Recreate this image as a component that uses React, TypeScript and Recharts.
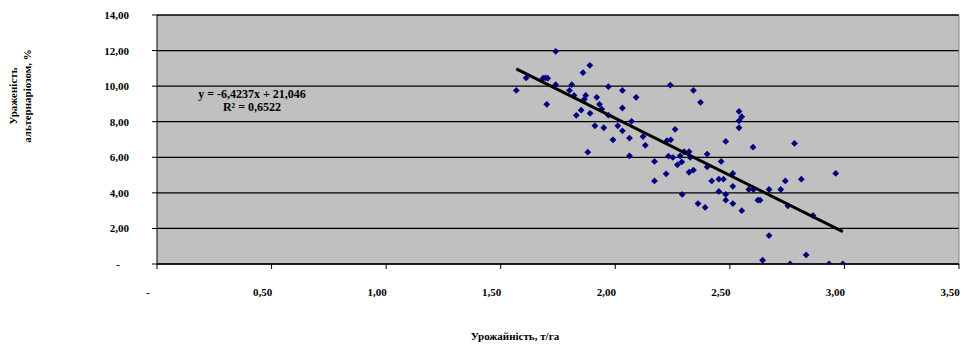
import { CartesianGrid, ReferenceLine, Scatter, ScatterChart, XAxis, YAxis } from "recharts";

// Урожайність (т/га) vs ураженість альтернаріозом (%), точки + лінійний тренд

const yieldT = [
  1.568, 1.611, 1.685, 1.695, 1.705, 1.701, 1.74, 1.74, 1.8, 1.81, 1.82, 1.83, 1.851, 1.859, 1.865,
  1.871, 1.88, 1.889, 1.89, 1.911, 1.919, 1.931, 1.941, 1.95, 1.97, 1.97, 1.99, 2.011, 2.031, 2.031,
  2.031, 2.062, 2.062, 2.071, 2.091, 2.121, 2.131, 2.171, 2.171, 2.222, 2.232, 2.24, 2.225, 2.242,
  2.251, 2.261, 2.271, 2.283, 2.29, 2.292, 2.3, 2.322, 2.327, 2.322, 2.341, 2.341, 2.361, 2.372,
  2.392, 2.401, 2.401, 2.421, 2.452, 2.472, 2.452, 2.462, 2.482, 2.482, 2.482, 2.513, 2.513, 2.513,
  2.54, 2.552, 2.54, 2.54, 2.552, 2.583, 2.603, 2.601, 2.622, 2.632, 2.643, 2.671, 2.671, 2.722,
  2.742, 2.753, 2.763, 2.782, 2.812, 2.833, 2.863, 2.933, 2.962, 2.993,
];
const infection = [
  9.76, 10.46, 10.45, 10.47, 10.45, 8.98, 11.96, 10.08, 9.76, 10.08, 9.48, 8.36, 8.65, 10.76, 9.26,
  9.48, 6.29, 11.17, 8.47, 7.77, 9.37, 8.98, 8.71, 7.66, 9.97, 8.37, 6.98, 7.77, 9.76, 8.77,
  7.49, 7.08, 6.08, 8.02, 9.37, 7.17, 6.67, 5.77, 4.67, 5.07, 6.06, 10.06, 6.93, 6.98,
  5.99, 7.57, 5.58, 6.08, 5.74, 3.91, 6.31, 6.31, 5.99, 5.16, 5.28, 9.76, 3.4, 9.09,
  3.18, 6.18, 5.46, 4.67, 4.77, 4.77, 4.08, 5.77, 6.89, 3.91, 3.59, 5.09, 4.37, 3.4,
  8.58, 8.28, 8.05, 7.66, 3.0, 4.19, 4.19, 6.57, 3.59, 3.59, 0.21, 4.19, 1.6, 4.19,
  4.67, 3.27, 0, 6.78, 4.77, 0.51, 2.72, 0, 5.09, 0,
];
const xTicks = [0, 0.5, 1, 1.5, 2, 2.5, 3, 3.5];
const yTicks = [0, 2, 4, 6, 8, 10, 12, 14];
const trendSlope = -6.4237;
const trendIntercept = 21.046;
const trendX = [1.568, 2.993];

const points = yieldT.map((x, i) => ({ x, y: infection[i] }));
const trend = trendX.map((x) => ({ x, y: trendSlope * x + trendIntercept }));

const FONT = "'Liberation Serif', 'Times New Roman', serif";

const fmt = (v: number) => (v === 0 ? "-" : v.toFixed(2).replace(".", ","));

const XTick = (p: any) => {
  const v = p.payload.value;
  return (
    <text x={p.x - 9} y={p.y + 25} textAnchor="middle" fontFamily={FONT} fontWeight="bold" fontSize={11} fill="#000">
      {fmt(v)}
    </text>
  );
};

const YTick = (p: any) => {
  const v = p.payload.value;
  return (
    <text
      x={v === 0 ? p.x - 30 : p.x - 21}
      y={p.y + 4}
      textAnchor="end"
      fontFamily={FONT}
      fontWeight="bold"
      fontSize={11}
      fill="#000"
    >
      {fmt(v)}
    </text>
  );
};

const Diamond = (p: any) => {
  const { cx, cy } = p;
  const r = 3.4;
  return (
    <polygon points={`${cx},${cy - r} ${cx + r},${cy} ${cx},${cy + r} ${cx - r},${cy}`} fill="#000080" />
  );
};

export default function App() {
  return (
    <div style={{ position: "absolute", left: 0, top: 0, width: 969, height: 345, background: "#fff" }}>
      <ScatterChart width={969} height={345} margin={{ top: 15, right: 10, left: 0, bottom: 0 }}>
        <CartesianGrid horizontal vertical={false} stroke="#000" strokeWidth={1.3} fill="#c0c0c0" fillOpacity={1} />
        <XAxis
          type="number"
          dataKey="x"
          domain={[0, 3.5]}
          ticks={xTicks}
          height={81}
          tick={<XTick />}
          tickSize={5}
          axisLine={{ stroke: "#000" }}
          tickLine={{ stroke: "#000" }}
          allowDataOverflow
        />
        <YAxis
          type="number"
          dataKey="y"
          domain={[0, 14]}
          ticks={yTicks}
          width={157}
          tick={<YTick />}
          tickSize={5}
          axisLine={{ stroke: "#000" }}
          tickLine={{ stroke: "#000" }}
          allowDataOverflow
        />
        <ReferenceLine x={3.5} stroke="#808080" strokeWidth={1} />
        <Scatter data={points} shape={<Diamond />} isAnimationActive={false} />
        <Scatter
          data={trend}
          line={{ stroke: "#000", strokeWidth: 3 }}
          shape={() => <g />}
          isAnimationActive={false}
        />
      </ScatterChart>
      <svg
        width={969}
        height={345}
        style={{ position: "absolute", left: 0, top: 0, pointerEvents: "none" }}
        fontFamily={FONT}
        fontWeight="bold"
        fontSize={11}
      >
        <text x={252} y={98} textAnchor="middle" fontSize={12}>y = -6,4237x + 21,046</text>
        <text x={252} y={111} textAnchor="middle" fontSize={12}>R² = 0,6522</text>
        <text x={515} y={340} textAnchor="middle">Урожайність, т/га</text>
        <text transform="translate(17,96) rotate(-90)" textAnchor="middle">Ураженість</text>
        <text transform="translate(31,96) rotate(-90)" textAnchor="middle">альтернаріозом, %</text>
      </svg>
    </div>
  );
}
